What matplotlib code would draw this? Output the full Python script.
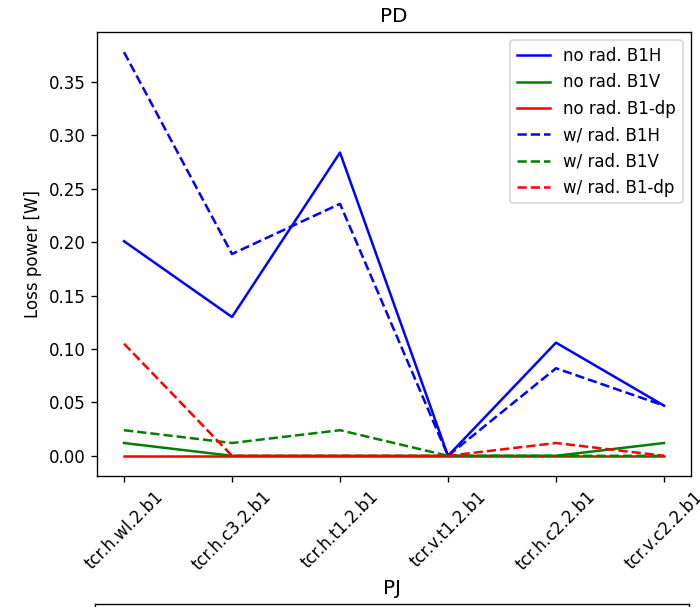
import matplotlib
matplotlib.use('Agg')
import matplotlib.pyplot as plt

# Collimateurs (abscisse)
collimateurs = ['tcr.h.wl.2.b1', 'tcr.h.c3.2.b1', 'tcr.h.t1.2.b1',
                'tcr.v.t1.2.b1', 'tcr.h.c2.2.b1', 'tcr.v.c2.2.b1']

# Puissance perdue [W] - sans radiation
norad_b1h = [0.201, 0.130, 0.284, 0.0, 0.106, 0.047]
norad_b1v = [0.012, 0.0, 0.0, 0.0, 0.0, 0.012]
norad_b1dp = [0.0, 0.0, 0.0, 0.0, 0.0, 0.0]

# Puissance perdue [W] - avec radiation
rad_b1h = [0.378, 0.189, 0.236, 0.0, 0.082, 0.047]
rad_b1v = [0.024, 0.012, 0.024, 0.0, 0.0, 0.0]
rad_b1dp = [0.105, 0.0, 0.0, 0.0, 0.012, 0.0]

# dpi 120 : tout est un peu plus gros, comme l'original
fig = plt.figure(figsize=(700 / 120, 607 / 120), dpi=120)

# Sous-graphe PD
ax = fig.add_axes([97 / 700, 1 - 476 / 607, 594 / 700, 444 / 607])
ax.plot(collimateurs, norad_b1h, color='blue', label='no rad. B1H')
ax.plot(collimateurs, norad_b1v, color='green', label='no rad. B1V')
ax.plot(collimateurs, norad_b1dp, color='red', label='no rad. B1-dp')
ax.plot(collimateurs, rad_b1h, color='blue', linestyle='--', label='w/ rad. B1H')
ax.plot(collimateurs, rad_b1v, color='green', linestyle='--', label='w/ rad. B1V')
ax.plot(collimateurs, rad_b1dp, color='red', linestyle='--', label='w/ rad. B1-dp')
ax.set_title('PD')
ax.set_ylabel('Loss power [W]')
ax.tick_params(axis='x', labelrotation=45)
ax.legend(loc='upper right')

# Sous-graphe PJ (coupé en bas de l'image)
ax2 = fig.add_axes([95 / 700, 1 - 604 / 607 - 444 / 607, 594 / 700, 444 / 607])
ax2.set_title('PJ')
ax2.set_xticks([])
ax2.set_yticks([])

plt.savefig('out.png', dpi=120)
plt.close()
